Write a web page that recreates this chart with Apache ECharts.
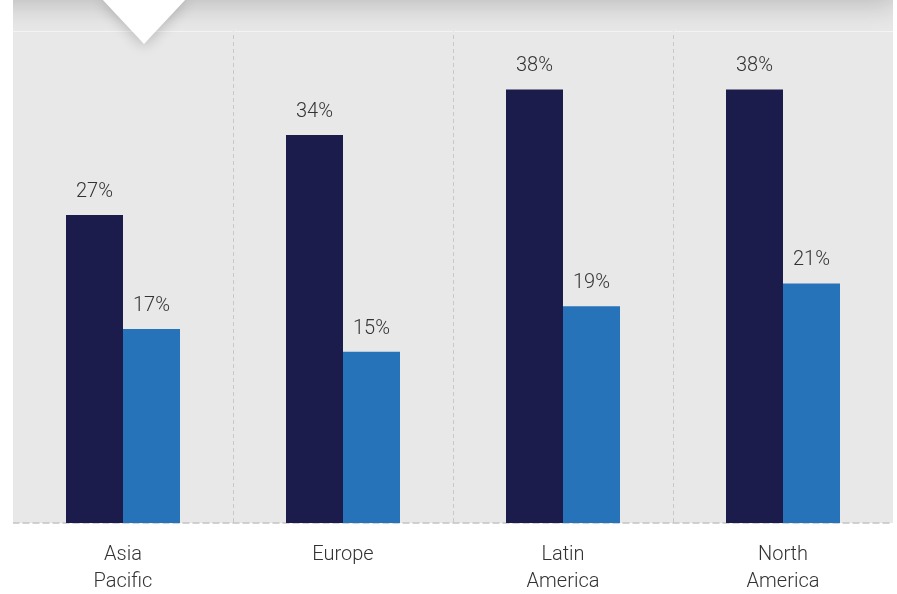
<!DOCTYPE html>
<html><head><meta charset="utf-8">
<script src="https://cdn.jsdelivr.net/npm/echarts@6/dist/echarts.min.js"></script>
<style>html,body{margin:0;padding:0;background:#fff}#c{width:897px;height:594px}</style>
</head><body><div id="c"></div>
<script>
const categories = ['Asia\nPacific', 'Europe', 'Latin\nAmerica', 'North\nAmerica'];
const seriesA = [27, 34, 38, 38];
const seriesB = [17, 15, 19, 21];

const FONT = 'Roboto, Liberation Sans, Arial, sans-serif';
const chart = echarts.init(document.getElementById('c'), null, {renderer: 'canvas'});
const labelStyle = {show: true, position: 'top', distance: 13, formatter: '{c}%', color: '#333', fontSize: 20, fontWeight: 300, fontFamily: FONT};
chart.setOption({
  animation: false,
  grid: {left: 13, right: 4, top: 0, bottom: 71, show: true, backgroundColor: '#e8e8e8', borderWidth: 0, outerBoundsMode: 'none', containLabel: false},
  xAxis: {
    type: 'category', data: categories,
    axisLine: {show: true, lineStyle: {color: '#c4c4c4', type: [6, 4], width: 1.5}},
    axisTick: {show: false},
    axisLabel: {color: '#333', fontSize: 20, fontWeight: 300, lineHeight: 27, margin: 18, fontFamily: FONT},
    splitLine: {show: true, lineStyle: {color: '#c8c8c8', type: [4, 3], width: 1}}
  },
  yAxis: {type: 'value', min: 0, max: 45.84, show: false, splitLine: {show: false}},
  series: [
    {type: 'bar', data: seriesA, barWidth: 57, barGap: '0%', itemStyle: {color: '#1b1c4b'}, label: labelStyle},
    {type: 'bar', data: seriesB, barWidth: 57, barGap: '0%', itemStyle: {color: '#2773b9'}, label: labelStyle}
  ],
  graphic: [
    {type: 'rect', x: 13, y: 0, shape: {width: 1.6, height: 522}, style: {fill: '#e8e8e8'}, z: 99},
    {type: 'rect', left: 13, top: 0, shape: {width: 880, height: 31}, style: {fill: '#e8e8e8'}, z: 100},
    {type: 'line', shape: {x1: 13, y1: 31.5, x2: 893, y2: 31.5}, style: {stroke: 'rgba(255,255,255,0.5)', lineWidth: 1}, z: 100},
    {type: 'rect', x: -20, y: -120, shape: {width: 920, height: 120, r: 12}, style: {fill: '#fff', shadowBlur: 30, shadowColor: 'rgba(0,0,0,0.22)', shadowOffsetY: 3}, z: 101},
    {type: 'polygon', shape: {points: [[101, -2], [187, -2], [144, 44]]}, style: {fill: '#fff', shadowBlur: 14, shadowColor: 'rgba(0,0,0,0.22)', shadowOffsetY: 2}, z: 102},
    {type: 'rect', x: 96, y: -10, shape: {width: 95, height: 10}, style: {fill: '#fff'}, z: 103},
    {type: 'rect', x: 0, y: 0, shape: {width: 13, height: 594}, style: {fill: '#fff'}, z: 104},
    {type: 'rect', x: 893, y: 0, shape: {width: 4, height: 594}, style: {fill: '#fff'}, z: 104}
  ]
});
</script></body></html>
